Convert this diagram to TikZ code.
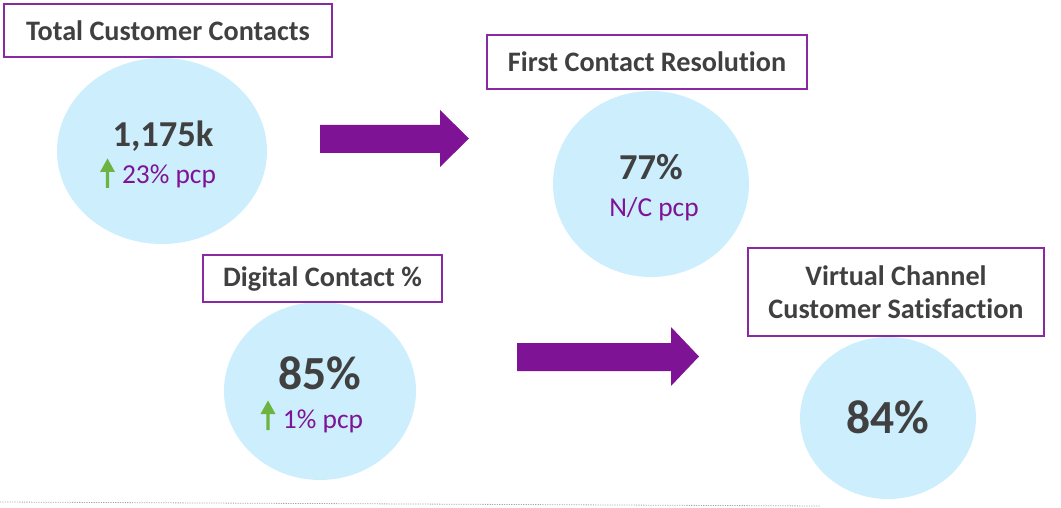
\documentclass[tikz,border=0pt]{standalone}
\usepackage{fontspec}
\setmainfont{Carlito}[Ligatures={NoCommon}]
\usetikzlibrary{shapes.geometric}
\definecolor{txtgray}{HTML}{404040}
\definecolor{purp}{HTML}{7F1396}
\definecolor{boxpurp}{HTML}{8A2AA3}
\definecolor{ltblue}{HTML}{CCEEFD}
\definecolor{grn}{HTML}{6DB33F}
\definecolor{dotgray}{HTML}{A6A6A6}
\tikzset{
  titlebox/.style={draw=boxpurp, line width=1.6pt, fill=white, inner sep=0pt, align=center,
    font=\fontsize{28.2}{33}\selectfont\bfseries, text=txtgray},
  bubble/.style={ellipse, fill=ltblue, draw=none, inner sep=0pt},
  bigval/.style={anchor=base, inner sep=0pt, text=txtgray, font=\fontsize{36.5}{40}\selectfont\bfseries},
  hugeval/.style={anchor=base, inner sep=0pt, text=txtgray, font=\fontsize{47.5}{52}\selectfont\bfseries},
  change/.style={anchor=base, inner sep=0pt, text=purp, font=\fontsize{27.4}{32}\selectfont},
  blockarrow/.style={fill=purp, draw=none},
  uparrow/.style={fill=grn, draw=none}
}
\begin{document}
\begin{tikzpicture}[x=1pt,y=-1pt]
\useasboundingbox (0,0) rectangle (1061,508);
% bottom dotted rule
\coordinate (dl) at (0,502);
\coordinate (dr) at (820,506);
\draw[dotgray, line width=0.8pt, dash pattern=on 1.2pt off 1.2pt] (dl) -- (dr);
% bubbles
\node[bubble, minimum width=210pt, minimum height=186pt] (c1) at (162,151) {};
\node[bubble, minimum width=196pt, minimum height=186pt] (c2) at (651,184) {};
\node[bubble, minimum width=192pt, minimum height=178pt] (c3) at (320,391) {};
\node[bubble, minimum width=176pt, minimum height=162pt] (c4) at (888,418) {};
% title boxes
\node[titlebox, minimum width=328pt, minimum height=53pt] (t1) at (168,30.5) {Total Customer Contacts};
\node[titlebox, minimum width=320pt, minimum height=54pt] (t2) at (647,62) {First Contact Resolution};
\node[titlebox, minimum width=239pt, minimum height=47pt] (t3) at (322.5,278.5) {Digital Contact \%};
\node[titlebox, minimum width=296pt, minimum height=88pt] (t4) at (896,292) {Virtual Channel\\Customer Satisfaction};
% values
\node[bigval] (v1) at (163,147) {1,175k};
\node[change] (p1) at (169,183) {23\% pcp};
\node[bigval] (v2) at (651,180) {77\%};
\node[change] (p2) at (654,217) {N/C pcp};
\node[hugeval] (v3) at (320,389) {85\%};
\node[change] (p3) at (323,428) {1\% pcp};
\node[hugeval] (v4) at (888,433) {84\%};
% green up arrows
\fill[uparrow] (105.8,188) -- (105.8,172) -- (100,172) -- (107.5,158.5) -- (115,172) -- (109.2,172) -- (109.2,188) -- cycle;
\fill[uparrow] (266.3,430) -- (266.3,414) -- (260.5,414) -- (268,400.5) -- (275.5,414) -- (269.7,414) -- (269.7,430) -- cycle;
% purple block arrows
\fill[blockarrow] (320,125) -- (440,125) -- (440,110) -- (469,138.5) -- (440,167) -- (440,153) -- (320,153) -- cycle;
\fill[blockarrow] (517,343) -- (671,343) -- (671,327) -- (699,356.5) -- (671,386) -- (671,371) -- (517,371) -- cycle;
\end{tikzpicture}
\end{document}
